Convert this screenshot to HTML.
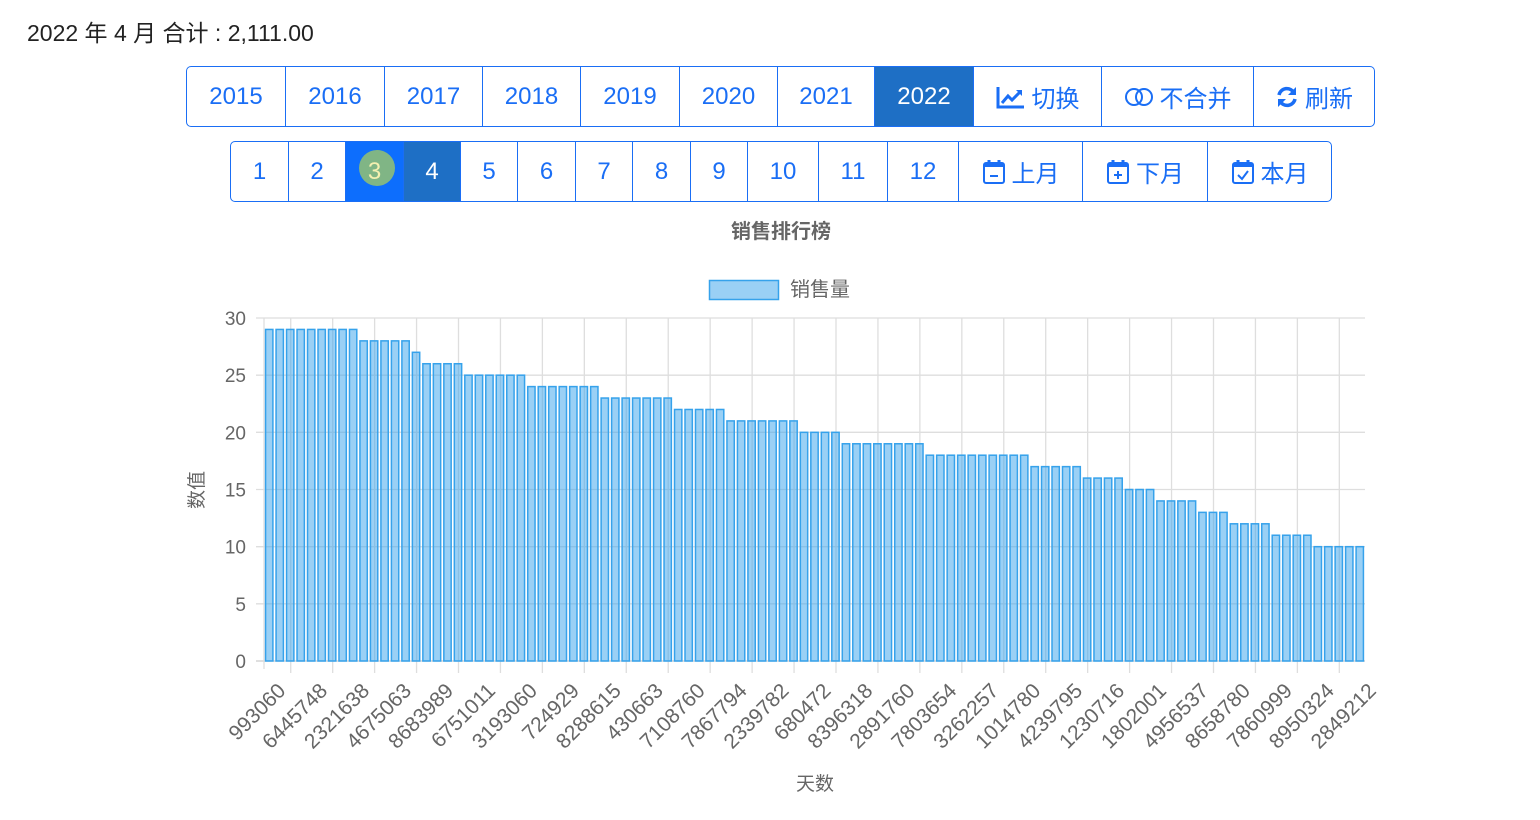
<!DOCTYPE html>
<html><head><meta charset="utf-8"><style>
body{margin:0;width:1540px;height:820px;background:#fff;font-family:"Liberation Sans","Noto Sans CJK SC",sans-serif;position:relative;overflow:hidden}
.t{position:absolute;left:27px;top:14px;font-size:23px;color:#222}
.b{position:absolute;box-sizing:border-box;border:1px solid #1a6ef5;background:#fff;color:#1a6ef5;font-size:24px;display:flex;align-items:center;justify-content:center;gap:6px}
.act{background:#1e6fc5;color:#fff}
</style></head><body>
<div class="t">2022 年 4 月 合计 : 2,111.00</div>
<div id="r1"></div><div id="r2"></div>
<svg id="c" width="1540" height="820" style="position:absolute;left:0;top:0" font-family="Liberation Sans, Noto Sans CJK SC, sans-serif"></svg>
<script>
const years=["2015","2016","2017","2018","2019","2020","2021","2022"];
const yearEdges=[186,285,384,482,580,679,777,874,973];
const months=["1","2","3","4","5","6","7","8","9","10","11","12"];
const monthEdges=[230,288,345,403,460,517,575,632,690,747,818,887,958];
function btn(x1,x2,y,h,html,cls,name,r){
 const d=document.createElement('div');d.className='b '+(cls||'');
 d.style.left=x1+'px';d.style.top=y+'px';d.style.width=(x2-x1+1)+'px';d.style.height=h+'px';
 if(r)d.style.borderRadius=r;d.innerHTML=html;
 
 
 document.body.appendChild(d);return d;}
years.forEach((y,i)=>btn(yearEdges[i],yearEdges[i+1],66,61,y,y==="2022"?'act':'', 'year-'+y+'-button', i==0?'5px 0 0 5px':''));
const chartIco='<svg width="30" height="24" viewBox="0 0 30 24"><path d="M2 2V22H28" stroke="#1a6ef5" stroke-width="3" fill="none"/><path d="M6 18L12 11L16 15L25 6" stroke="#1a6ef5" stroke-width="3" fill="none"/><path d="M20 5H26V11Z" fill="#1a6ef5"/></svg>';
btn(973,1101,66,61,chartIco+'切换','','switch-button');
btn(1101,1253,66,61,'<svg width="30" height="20"><circle cx="10" cy="10" r="8" stroke="#1a6ef5" stroke-width="2" fill="none"/><circle cx="20" cy="10" r="8" stroke="#1a6ef5" stroke-width="2" fill="none"/></svg>不合并','','no-merge-button');
btn(1253,1374,66,61,'<svg width="24" height="24" viewBox="0 0 24 24"><path d="M19 8A8 8 0 0 0 4 10M5 16A8 8 0 0 0 20 14" stroke="#1a6ef5" stroke-width="3.5" fill="none"/><path d="M21 2V10H13Z M3 22V14H11Z" fill="#1a6ef5"/></svg>刷新','','refresh-button','0 5px 5px 0');
months.forEach((m,i)=>{const d=btn(monthEdges[i],monthEdges[i+1],141,61,m,m==="4"?'act':'', 'month-'+m+'-button', i==0?'5px 0 0 5px':'');
 if(m==="3"){d.style.background='#0d6efd';d.style.color='#fff';d.innerHTML='<div style="position:absolute;left:13px;top:8px;width:36px;height:36px;border-radius:50%;background:#80b585"></div><span style="position:relative;color:#f4f0b0">3</span>';}});
const cal=s=>'<svg width="24" height="26" viewBox="0 0 24 26"><rect x="2" y="4" width="20" height="20" rx="2" stroke="#1a6ef5" stroke-width="2" fill="none"/><rect x="2" y="4" width="20" height="4" fill="#1a6ef5"/><path d="M7 1V6M17 1V6" stroke="#1a6ef5" stroke-width="3"/>'+s+'</svg>';
btn(958,1082,141,61,cal('<path d="M8 17H16" stroke="#1a6ef5" stroke-width="2"/>')+'上月','','prev-month-button');
btn(1082,1207,141,61,cal('<path d="M8 16H16M12 12V20" stroke="#1a6ef5" stroke-width="2"/>')+'下月','','next-month-button');
btn(1207,1331,141,61,cal('<path d="M7 16L11 20L17 12" stroke="#1a6ef5" stroke-width="2" fill="none"/>')+'本月','','this-month-button','0 5px 5px 0');
</script>
<script>
const values=[29,29,29,29,29,29,29,29,29,28,28,28,28,28,27,26,26,26,26,25,25,25,25,25,25,24,24,24,24,24,24,24,23,23,23,23,23,23,23,22,22,22,22,22,21,21,21,21,21,21,21,20,20,20,20,19,19,19,19,19,19,19,19,18,18,18,18,18,18,18,18,18,18,17,17,17,17,17,16,16,16,16,15,15,15,14,14,14,14,13,13,13,12,12,12,12,11,11,11,11,10,10,10,10,10];
const tickLabels=["993060","6445748","2321638","4675063","8683989","6751011","3193060","724929","8288615","430663","7108760","7867794","2339782","680472","8396318","2891760","7803654","3262257","1014780","4239795","1230716","1802001","4956537","8658780","7860999","8950324","2849212"];
const yTicks=[0,5,10,15,20,25,30];
const L=264,R=1365,T=318,B=661,YMAX=30;
const svg=document.getElementById('c');const NS='http://www.w3.org/2000/svg';
const cw=(R-L)/values.length;
const x=i=>L+(i+0.5)*cw;
const y=v=>B-(v/YMAX)*(B-T);
function el(t,a,txt){const e=document.createElementNS(NS,t);for(const k in a)e.setAttribute(k,a[k]);if(txt!=null)e.textContent=txt;svg.appendChild(e);return e;}
let e;
e=el('text',{x:781,y:238,'text-anchor':'middle','font-size':20,'font-weight':'bold',fill:'#666'},'销售排行榜');


e=el('rect',{x:709.5,y:280.5,width:69,height:19,fill:'#9ad0f5',stroke:'#36a2eb','stroke-width':1.5});


e=el('text',{x:790,y:296,'font-size':20,fill:'#666'},'销售量');


yTicks.forEach(v=>{
 e=el('line',{x1:L-8,x2:R,y1:y(v),y2:y(v),stroke:v===0?'#ccc':'#dedede','stroke-width':1.3});
 
 
 e=el('text',{x:L-18,y:y(v)+7,'text-anchor':'end','font-size':19,fill:'#666'},String(v));
 
 
});
e=el('line',{x1:L,x2:L,y1:T,y2:B+8,stroke:'#dedede','stroke-width':1.3});


tickLabels.forEach((lab,k)=>{
 const tx=x(k*4)+2.05*cw;
 if(tx<R){e=el('line',{x1:tx,x2:tx,y1:T,y2:B+12,stroke:'#dedede','stroke-width':1.3});
 
 }
 e=el('text',{x:0,y:0,'text-anchor':'end','font-size':21,fill:'#666',transform:`translate(${tx-4},${B+31}) rotate(-45)`},lab);
 
 
});
const bw=cw*0.7;
values.forEach((v,i)=>{
 e=el('rect',{x:x(i)-bw/2,y:y(v),width:bw,height:B-y(v),fill:'rgba(54,162,235,0.5)',stroke:'#36a2eb','stroke-width':1.5});
 
 
});
e=el('text',{x:0,y:0,'text-anchor':'middle','font-size':19,fill:'#666',transform:'translate(203,490) rotate(-90)'},'数值');


e=el('text',{x:815,y:790,'text-anchor':'middle','font-size':19,fill:'#666'},'天数');


</script>
</body></html>
